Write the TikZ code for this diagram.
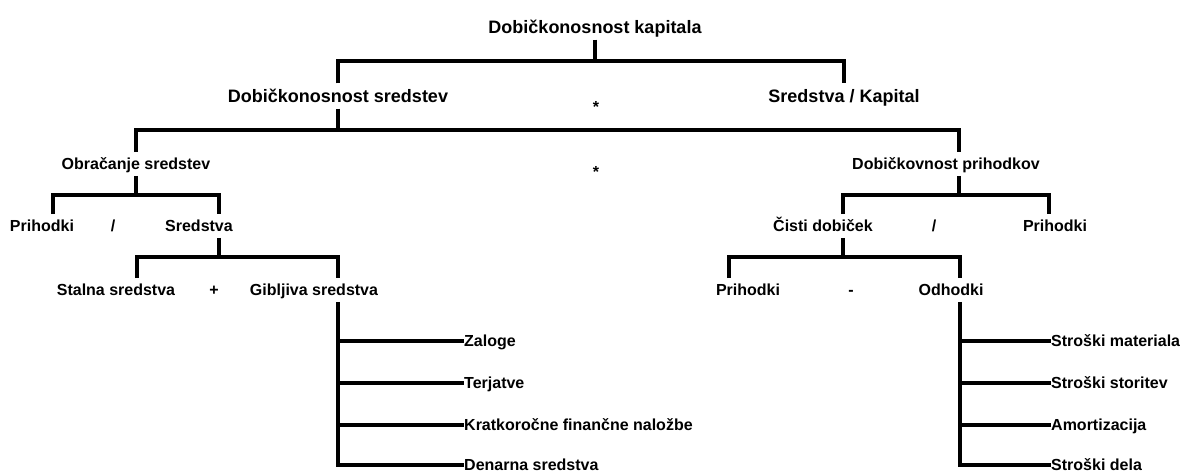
\documentclass[tikz,border=0pt]{standalone}
\usepackage{fontspec}
\setmainfont{Liberation Sans}
\begin{document}
\begin{tikzpicture}[x=1pt, y=-1pt, line join=miter,
  link/.style={line width=3.4pt, line cap=butt},
  big/.style={font=\fontsize{18}{20}\selectfont\bfseries, inner xsep=0pt, inner ysep=6pt, text height=12.9pt, text depth=0pt},
  small/.style={font=\fontsize{16}{18}\selectfont\bfseries, inner xsep=0pt, inner ysep=6pt, text height=11.5pt, text depth=0pt}]
\useasboundingbox (0,0) rectangle (1182,473);
% upper levels
\node[big] (title) at (595,27) {Dobičkonosnost kapitala};
\node[big] (ds) at (338,96) {Dobičkonosnost sredstev};
\node[big] (sk) at (844,96) {Sredstva / Kapital};
\node[small] (star1) at (596,107) {*};
\node[small] (os) at (136,164) {Obračanje sredstev};
\node[small] (star2) at (596,172) {*};
\node[small] (dp) at (946,164) {Dobičkovnost prihodkov};
% left side
\node[small] (pr1) at (42,226) {Prihodki};
\node[small] (sl1) at (113,226) {/};
\node[small] (sr) at (199,226) {Sredstva};
\node[small] (ss) at (116,290) {Stalna sredstva};
\node[small] (plus) at (214,290) {+};
\node[small] (gs) at (314,290) {Gibljiva sredstva};
% right side
\node[small] (cd) at (823,226) {Čisti dobiček};
\node[small] (sl2) at (934,226) {/};
\node[small] (pr2) at (1055,226) {Prihodki};
\node[small] (pr3) at (748,290) {Prihodki};
\node[small] (minus) at (851,290) {-};
\node[small] (od) at (951,290) {Odhodki};
\foreach \n/\y/\t in {za/341/Zaloge, te/383/Terjatve, kf/425/Kratkoročne finančne naložbe, dn/465/Denarna sredstva}
  \node[small, anchor=west] (\n) at (464,\y) {\t};
\foreach \n/\y/\t in {sm/341/Stroški materiala, st/383/Stroški storitev, am/425/Amortizacija, sd/465/Stroški dela}
  \node[small, anchor=west] (\n) at (1051,\y) {\t};
% forks
\path
(595,61) coordinate (k1)
(338,130) coordinate (k2)
(136,195) coordinate (k3)
(959,195) coordinate (k4)
(219,257) coordinate (k5)
(843,257) coordinate (k6)
([xshift=24pt]gs.south) coordinate (g)
([xshift=9pt]od.south) coordinate (o)
;
\draw[link] (title.south) -- (k1);
\draw[link] (ds.north) |- (k1) -| (sk.north);
\draw[link] (ds.south) -- (k2);
\draw[link] (os.north) |- (k2) -| ([xshift=13pt]dp.north);
\draw[link] (os.south) -- (k3);
\draw[link] ([xshift=11pt]pr1.north) |- (k3) -| ([xshift=20pt]sr.north);
\draw[link] ([xshift=13pt]dp.south) -- (k4);
\draw[link] ([xshift=20pt]cd.north) |- (k4) -| ([xshift=-6pt]pr2.north);
\draw[link] ([xshift=20pt]sr.south) -- (k5);
\draw[link] ([xshift=21pt]ss.north) |- (k5) -| ([xshift=24pt]gs.north);
\draw[link] ([xshift=20pt]cd.south) -- (k6);
\draw[link] ([xshift=-19pt]pr3.north) |- (k6) -| ([xshift=9pt]od.north);
% branch lists
\draw[link] (g) |- (dn.west);
\foreach \n in {za,te,kf}
  \draw[link] (g |- \n.west) -- (\n.west);
\draw[link] (o) |- (sd.west);
\foreach \n in {sm,st,am}
  \draw[link] (o |- \n.west) -- (\n.west);
\end{tikzpicture}
\end{document}
